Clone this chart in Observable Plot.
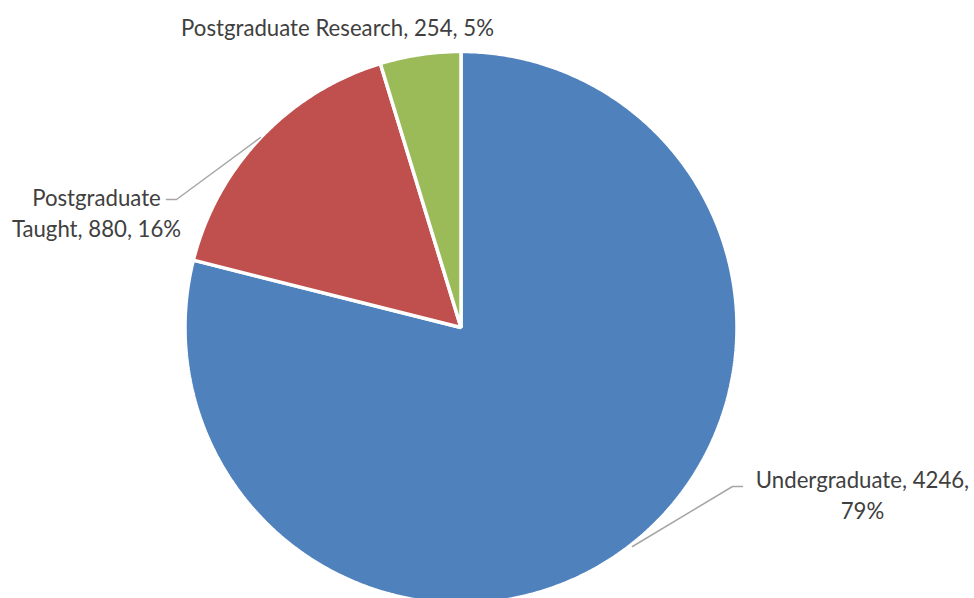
<!DOCTYPE html>
<html>
<head>
<meta charset="utf-8">
<script src="https://cdn.jsdelivr.net/npm/d3@7"></script>
<script src="https://cdn.jsdelivr.net/npm/@observablehq/plot@0.6"></script>
<style>
  html, body { margin: 0; padding: 0; background: #fff; overflow: hidden; }
</style>
</head>
<body>
<div id="chart"></div>
<script>
// ---- data ----
const categories = ["Undergraduate", "Postgraduate Taught", "Postgraduate Research"];
const values = [4246, 880, 254];
const percents = ["79%", "16%", "5%"];
const colors = ["#4F81BD", "#C0504D", "#9BBB59"];
const labelTexts = [
  "Undergraduate, 4246,\n79%",
  "Postgraduate\nTaught, 880, 16%",
  "Postgraduate Research, 254, 5%"
];

// ---- layout ----
const W = 974, H = 598;
const R = 276;              // pie radius in px
const cx = 460.5, cy = 327; // pie centre in px
const marginLeft = cx - R, marginRight = W - (cx + R), marginTop = cy - R;
const yMin = -(H - marginTop) / R + 1; // bottom of frame in data units (pie clipped)
const toX = px => (px - cx) / R;
const toY = py => (cy - py) / R;
const FS = 22.2;

// label anchors (px) and leader lines (px)
const labelLayout = [
  {x: 862, y: 466.5, lh: 1.36},
  {x: 96, y: 183.5, lh: 1.4},
  {x: 337, y: 13.5, lh: 1.4}
];
const leaders = [
  [[632, 546], [732, 486], [742, 486]],
  [[260, 137], [176, 199], [166, 199]]
];

// ---- slices from values ----
const total = d3.sum(values);
let acc = 0;
const slices = categories.map((name, i) => {
  const a0 = acc / total * 2 * Math.PI;
  acc += values[i];
  const a1 = acc / total * 2 * Math.PI;
  const pts = [{x: 0, y: 0}];
  const n = Math.max(2, Math.ceil((a1 - a0) / (Math.PI / 360)));
  for (let k = 0; k <= n; k++) {
    const a = a0 + (a1 - a0) * k / n;
    pts.push({x: Math.sin(a), y: Math.cos(a)});
  }
  pts.push({x: 0, y: 0});
  return {name, color: colors[i], pts};
});

const labels = labelTexts.map((t, i) => ({
  text: t, x: toX(labelLayout[i].x), y: toY(labelLayout[i].y), lh: labelLayout[i].lh
}));

const marks = [];
slices.forEach(s => {
  marks.push(Plot.line(s.pts, {
    x: "x", y: "y", fill: s.color, stroke: "#ffffff", strokeWidth: 3.5,
    strokeLinejoin: "miter", curve: "linear-closed"
  }));
});
leaders.forEach(l => {
  marks.push(Plot.line(l.map(([px, py]) => ({x: toX(px), y: toY(py)})), {
    x: "x", y: "y", stroke: "#A6A6A6", strokeWidth: 1.5, curve: "linear"
  }));
});
labels.forEach(l => {
  marks.push(Plot.text([l], {
    x: "x", y: "y", text: "text", textAnchor: "middle", lineAnchor: "top",
    lineHeight: l.lh, fontSize: FS, fill: "#404040"
  }));
});

const chart = Plot.plot({
  width: W,
  height: H,
  marginLeft, marginRight, marginTop, marginBottom: 0,
  x: {domain: [-1, 1], axis: null},
  y: {domain: [yMin, 1], axis: null},
  style: {fontFamily: "Lato, 'Open Sans', sans-serif", background: "#fff", overflow: "hidden"},
  marks
});
document.getElementById("chart").appendChild(chart);
</script>
</body>
</html>
